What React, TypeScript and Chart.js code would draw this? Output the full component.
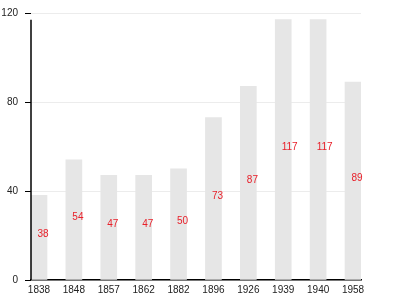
import React, { useEffect, useRef } from "react";
import { Chart, registerables } from "chart.js";

Chart.register(...registerables);

const years = ["1838", "1848", "1857", "1862", "1882", "1896", "1926", "1939", "1940", "1958"];
const values = [38, 54, 47, 47, 50, 73, 87, 117, 117, 89];
const yTicks = [0, 40, 80, 120];

const FONT = "'Liberation Sans', Arial, Helvetica, sans-serif";

const labelPlugin = {
  id: "midLabels",
  afterDatasetsDraw(chart: any) {
    const ctx = chart.ctx;
    const meta = chart.getDatasetMeta(0);
    const ys = chart.scales.y;
    const area = chart.chartArea;
    ctx.save();
    // y-axis domain line (runs from the data maximum down to zero)
    ctx.strokeStyle = "#000";
    ctx.lineWidth = 1.5;
    ctx.beginPath();
    ctx.moveTo(area.left, ys.getPixelForValue(Math.max(...values)));
    ctx.lineTo(area.left, area.bottom);
    ctx.stroke();

    ctx.font = `10px ${FONT}`;
    ctx.fillStyle = "#e8202a";
    ctx.textAlign = "left";
    ctx.textBaseline = "alphabetic";
    meta.data.forEach((bar: any, i: number) => {
      const mid = (bar.y + bar.base) / 2;
      ctx.fillText(String(values[i]), bar.x - 1.5, mid);
    });
    ctx.restore();
  },
};

export default function App() {
  const ref = useRef<HTMLCanvasElement>(null);
  useEffect(() => {
    if (!ref.current) return;
    const pad = 8 / 35;
    const chart = new Chart(ref.current, {
      type: "bar",
      data: {
        datasets: [
          {
            data: values.map((v, i) => ({ x: i, y: v })),
            backgroundColor: "#e6e6e6",
            borderWidth: 0,
            barThickness: 16,
          },
        ],
      },
      options: {
        responsive: false,
        animation: false,
        layout: { padding: { left: 0, right: 39, top: 13, bottom: 0 } },
        plugins: { legend: { display: false }, tooltip: { enabled: false }, title: { display: false } },
        scales: {
          x: {
            type: "linear",
            min: -pad,
            max: years.length - 1 + pad,
            offset: false,
            afterFit: (s: any) => {
              s.height = 20;
            },
            afterBuildTicks: (s: any) => {
              s.ticks = years.map((_, i) => ({ value: i }));
            },
            grid: { display: false, drawTicks: false },
            border: { display: true, color: "#000", width: 1.5 },
            ticks: {
              autoSkip: false,
              maxRotation: 0,
              padding: 4,
              color: "#222",
              font: { size: 10, family: FONT },
              callback: (v: any) => years[Math.round(Number(v))] ?? "",
            },
          },
          y: {
            min: 0,
            max: 120,
            afterFit: (s: any) => {
              s.width = 31;
            },
            afterBuildTicks: (s: any) => {
              s.ticks = yTicks.map((v) => ({ value: v }));
            },
            grid: { color: "#ececec", lineWidth: 1, tickColor: "#000", tickLength: 6, drawTicks: true },
            border: { display: false },
            ticks: {
              padding: 7,
              color: "#222",
              font: { size: 10, family: FONT },
            },
          },
        },
      },
      plugins: [labelPlugin],
    });
    return () => chart.destroy();
  }, []);
  return (
    <div style={{ position: "absolute", left: 0, top: 0, width: 400, height: 300 }}>
      <canvas ref={ref} width={400} height={300} style={{ display: "block" }} />
    </div>
  );
}
